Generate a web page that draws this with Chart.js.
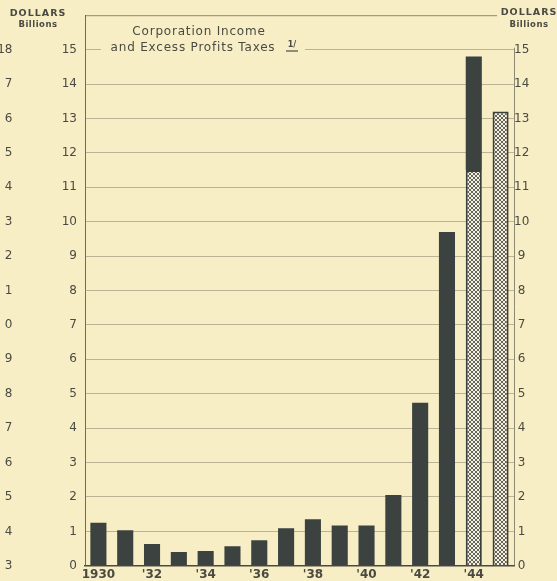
<!DOCTYPE html>
<html>
<head>
<meta charset="utf-8">
<script src="https://cdn.jsdelivr.net/npm/chart.js@4.4.1/dist/chart.umd.min.js"></script>
<style>
  html, body { margin: 0; padding: 0; background: #f8eec6; }
  #wrap { width: 557px; height: 581px; }
</style>
</head>
<body>
<div id="wrap"><canvas id="chart" width="557" height="581"></canvas></div>
<script>
// Data (billions of dollars)
const years = ['1930','1931','1932','1933','1934','1935','1936','1937','1938','1939','1940','1941','1942','1943','1944','1945'];
const yearLabels = ['1930','',"'32",'',"'34",'',"'36",'',"'38",'',"'40",'',"'42",'',"'44",''];
const collected = [1.25, 1.03, 0.63, 0.40, 0.43, 0.57, 0.74, 1.09, 1.35, 1.17, 1.17, 2.06, 4.74, 9.70, 3.30, null];
const estimated = [null, null, null, null, null, null, null, null, null, null, null, null, null, null, 11.5, 13.2];
const axisTicks = [0, 1, 2, 3, 4, 5, 6, 7, 8, 9, 10, 11, 12, 13, 14, 15];
// cut-off labels from the neighbouring chart on the far left
const edgeLabels = ['3','4','5','6','7','8','9','0','1','2','3','4','5','6','7','18'];

const INK = '#4a4a42';
const BAR = '#3b423f';

function makeHatch() {
  const c = document.createElement('canvas');
  c.width = 4; c.height = 4;
  const g = c.getContext('2d');
  g.fillStyle = '#f6f1de';
  g.fillRect(0, 0, 4, 4);
  g.strokeStyle = '#66665d';
  g.lineWidth = 1;
  g.beginPath();
  g.moveTo(0, 0); g.lineTo(4, 4);
  g.moveTo(4, 0); g.lineTo(0, 4);
  g.stroke();
  return g.createPattern(c, 'repeat');
}

// extra texts and lines of the old print
const decor = {
  id: 'decor',
  beforeDraw(chart) {
    const ctx = chart.ctx;
    ctx.save();
    ctx.fillStyle = '#f8eec6';
    ctx.fillRect(0, 0, chart.width, chart.height);
    ctx.restore();
  },
  afterDraw(chart) {
    const ctx = chart.ctx;
    const area = chart.chartArea;
    const y = chart.scales.y;
    ctx.save();

    // top frame line and right axis line
    ctx.strokeStyle = 'rgba(95,93,80,0.7)';
    ctx.lineWidth = 1;
    ctx.beginPath();
    ctx.moveTo(area.left, area.top + 0.5);
    ctx.lineTo(497, area.top + 0.5);
    ctx.moveTo(area.right + 0.5, y.getPixelForValue(15) - 2);
    ctx.lineTo(area.right + 0.5, area.bottom);
    ctx.stroke();

    // far-left clipped numbers
    ctx.fillStyle = INK;
    ctx.font = '12px "DejaVu Sans"';
    ctx.textAlign = 'right';
    ctx.textBaseline = 'middle';
    edgeLabels.forEach((t, i) => {
      ctx.fillText(t, 12.5, y.getPixelForValue(i));
    });

    // unit captions
    ctx.textAlign = 'center';
    ctx.textBaseline = 'middle';
    ctx.letterSpacing = '1px';
    ctx.font = 'bold 9.5px "DejaVu Sans"';
    ctx.fillText('DOLLARS', 38, 14);
    ctx.fillText('DOLLARS', 529, 13);
    ctx.letterSpacing = '0.5px';
    ctx.font = 'bold 8.5px "DejaVu Sans"';
    ctx.fillText('Billions', 38, 25);
    ctx.fillText('Billions', 529, 25);

    // title box
    ctx.letterSpacing = '0.8px';
    ctx.fillStyle = '#f8eec6';
    ctx.fillRect(101, 20, 204, 36);
    ctx.fillStyle = INK;
    ctx.font = '12px "DejaVu Sans"';
    ctx.fillText('Corporation Income', 199, 32);
    ctx.fillText('and Excess Profits Taxes', 193, 48);
    ctx.letterSpacing = '0px';
    ctx.font = 'bold 8px "DejaVu Sans"';
    ctx.fillText('1/', 292, 45);
    ctx.strokeStyle = INK;
    ctx.lineWidth = 1.2;
    ctx.beginPath();
    ctx.moveTo(286, 51);
    ctx.lineTo(298, 51);
    ctx.stroke();

    ctx.restore();
  }
};

function drawChart() {
  const ctx = document.getElementById('chart').getContext('2d');
  new Chart(ctx, {
    type: 'bar',
    data: {
      labels: years,
      datasets: [
        {
          label: 'Estimated',
          data: estimated,
          backgroundColor: makeHatch(),
          borderColor: '#3a403d',
          borderWidth: 2,
          borderSkipped: 'bottom'
        },
        {
          label: 'Collected',
          data: collected,
          backgroundColor: BAR,
          borderWidth: 0
        }
      ]
    },
    options: {
      responsive: false,
      animation: false,
      layout: { padding: { top: 9, right: 13, left: 0, bottom: 0 } },
      datasets: { bar: { barPercentage: 0.6, categoryPercentage: 1 } },
      plugins: {
        legend: { display: false },
        tooltip: { enabled: false }
      },
      scales: {
        x: {
          stacked: true,
          grid: { display: false, drawTicks: false },
          border: { color: '#4a4a42', width: 1.5 },
          ticks: {
            autoSkip: false,
            maxRotation: 0,
            padding: 2,
            color: INK,
            font: { family: 'DejaVu Sans', size: 12, weight: 'bold' },
            callback: (v, i) => yearLabels[i]
          },
          afterFit: s => { s.height = 15; }
        },
        y: {
          stacked: true,
          min: 0,
          max: 16,
          afterBuildTicks: s => { s.ticks = axisTicks.map(v => ({ value: v })); },
          grid: {
            color: c => c.tick.value === 0 ? 'rgba(0,0,0,0)' : 'rgba(110,106,90,0.45)',
            lineWidth: 1,
            drawTicks: false
          },
          border: { color: 'rgba(85,84,72,0.85)', width: 1 },
          ticks: {
            padding: 8,
            color: INK,
            font: { family: 'DejaVu Sans', size: 12 }
          },
          afterFit: s => { s.width = 85; }
        },
        y2: {
          position: 'right',
          min: 0,
          max: 16,
          afterBuildTicks: s => { s.ticks = axisTicks.map(v => ({ value: v })); },
          grid: { display: false, drawTicks: false },
          border: { display: false },
          ticks: {
            crossAlign: 'center',
            padding: 0,
            color: INK,
            font: { family: 'DejaVu Sans', size: 12 }
          },
          afterFit: s => { s.width = 30; }
        }
      }
    },
    plugins: [decor]
  });
}

drawChart();
</script>
</body>
</html>
